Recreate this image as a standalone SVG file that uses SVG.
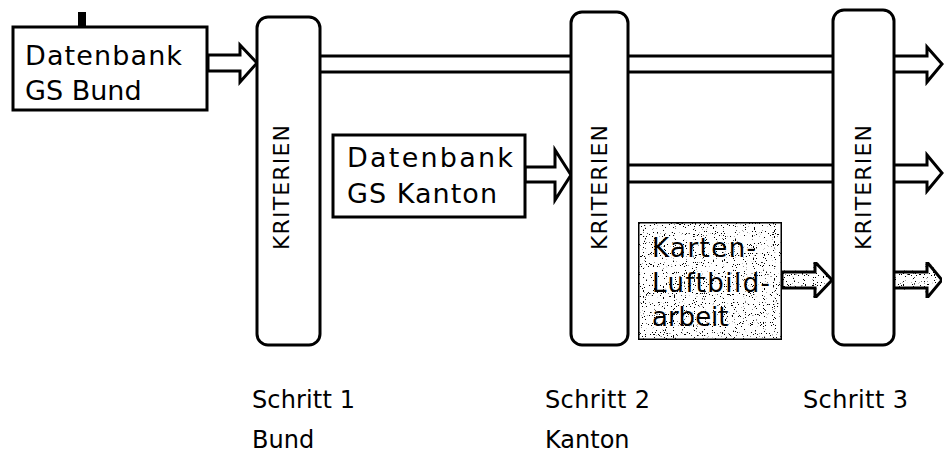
<svg xmlns="http://www.w3.org/2000/svg" width="944" height="454" viewBox="0 0 944 454">
<style>
.box{fill:#fff;stroke:#000;stroke-width:3}
.pil{fill:#fff;stroke:#000;stroke-width:3}
.ln{fill:none;stroke:#000;stroke-width:3}
.arr{fill:#fff;stroke:#000;stroke-width:3;stroke-linejoin:miter}
.t{font-family:"DejaVu Sans","Liberation Sans",sans-serif;fill:#000}
.bt{font-size:27px}
.kt{font-size:22px}
.st{font-size:24px}
.kb{font-size:26px}
</style>
<defs>
<filter id="speck" x="0" y="0" width="100%" height="100%">
<feTurbulence type="fractalNoise" baseFrequency="0.9" numOctaves="1" seed="3" result="n"/>
<feColorMatrix in="n" type="matrix" values="0 0 0 0 0  0 0 0 0 0  0 0 0 0 0  25 0 0 0 -16" result="d"/>
<feComposite in="d" in2="SourceGraphic" operator="in" result="dd"/>
<feMerge><feMergeNode in="SourceGraphic"/><feMergeNode in="dd"/></feMerge>
</filter>
</defs>
<g id="connectors">
<line class="ln" x1="320" y1="56" x2="833" y2="56"/>
<line class="ln" x1="320" y1="72" x2="833" y2="72"/>
<line class="ln" x1="628" y1="165" x2="833" y2="165"/>
<line class="ln" x1="628" y1="182" x2="833" y2="182"/>
<path class="arr" d="M208,55 H240 V45 L257,63 L240,82 V71 H208 Z"/>
<path class="arr" d="M525,167 H555 V150 L571,175 L555,200 V182 H525 Z"/>
<path class="arr" d="M782,272 H815 V262 L832,280 L815,298 V288 H782 Z" filter="url(#speck)"/>
<path class="arr" d="M894,56 H927 V47 L942,64 L927,82 V72 H894"/>
<path class="arr" d="M894,165 H927 V155 L942,173 L927,191 V182 H894"/>
<path class="arr" d="M894,272 H927 V262 L942,280 L927,298 V288 H894" filter="url(#speck)"/>
</g>
<g id="db-bund">
<rect x="78" y="12" width="8" height="15" fill="#000"/>
<rect class="box" x="13" y="27" width="194" height="83"/>
<text class="t bt" x="25" y="65" textLength="157">Datenbank</text>
<text class="t bt" x="25" y="100">GS Bund</text>
</g>
<g id="db-kanton">
<rect class="box" x="333" y="135" width="192" height="82"/>
<text class="t bt" x="347" y="167" textLength="166">Datenbank</text>
<text class="t bt" x="347" y="203" textLength="150">GS Kanton</text>
</g>
<g id="karten">
<rect class="box" x="638" y="222" width="144" height="118" filter="url(#speck)"/>
<text class="t kb" x="652" y="257" textLength="104">Karten-</text>
<text class="t kb" x="652" y="292" textLength="118">Luftbild-</text>
<text class="t kb" x="652" y="326">arbeit</text>
</g>
<g id="krit1">
<rect class="pil" x="257" y="17" width="63" height="328" rx="11"/>
<text class="t kt" transform="translate(289,250) rotate(-90)" textLength="125">KRITERIEN</text>
</g>
<g id="krit2">
<rect class="pil" x="571" y="12" width="57" height="333" rx="11"/>
<text class="t kt" transform="translate(607,250) rotate(-90)" textLength="125">KRITERIEN</text>
</g>
<g id="krit3">
<rect class="pil" x="833" y="10" width="61" height="335" rx="11"/>
<text class="t kt" transform="translate(871,250) rotate(-90)" textLength="125">KRITERIEN</text>
</g>
<g id="labels">
<text class="t st" x="252" y="408" textLength="103">Schritt 1</text>
<text class="t st" x="252" y="448">Bund</text>
<text class="t st" x="545" y="408" textLength="105">Schritt 2</text>
<text class="t st" x="545" y="448">Kanton</text>
<text class="t st" x="803" y="408" textLength="105">Schritt 3</text>
</g>
</svg>
